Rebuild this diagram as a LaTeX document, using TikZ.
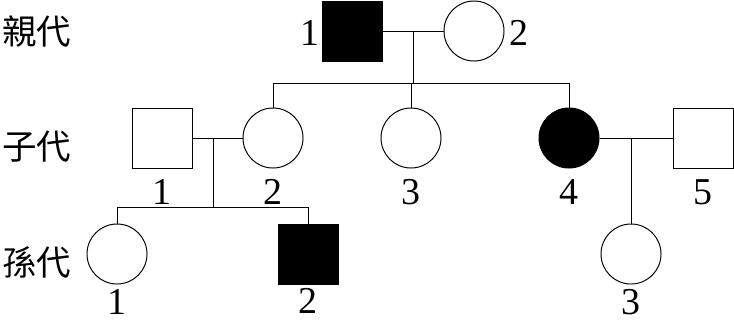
\documentclass[tikz,border=0pt]{standalone}
\usepackage{fontspec}
\setmainfont{Liberation Serif}
\newfontfamily\cjk{Noto Sans CJK TC}

\begin{document}
\begin{tikzpicture}[x=0.025cm, y=-0.025cm, line width=0.7pt,
    male/.style={rectangle, draw, minimum size=1.5cm, inner sep=0pt},
    female/.style={circle, draw, minimum size=1.5cm, inner sep=0pt},
    num/.style={inner sep=0pt, font=\fontsize{27}{30}\selectfont},
    gen/.style={inner sep=0pt, anchor=west, font=\cjk\fontsize{24.5}{28}\selectfont}]
        \useasboundingbox (0,0) rectangle (734,325);

        % Generation labels
        \node[gen] (g1) at (2,32) {親代};
        \node[gen] (g2) at (2,147) {子代};
        \node[gen] (g3) at (2,262) {孫代};

        % Draw nodes
        \node[male, fill=black] (p1) at (352,31) {};
        \node[female] (p2) at (474,31) {};
        \node[male] (c1) at (162,138) {};
        \node[female] (c2) at (273,138) {};
        \node[female] (c3) at (411,138) {};
        \node[female, fill=black] (c4) at (569,138) {};
        \node[male] (c5) at (703,138) {};
        \node[female] (k1) at (117,254) {};
        \node[male, fill=black] (k2) at (308,254) {};
        \node[female] (k3) at (631,254) {};

        % Numbers
        \node[num] (n1) at (310,33) {1};
        \node[num] (n2) at (519,33) {2};
        \node[num] (m1) at (162,192) {1};
        \node[num] (m2) at (273,192) {2};
        \node[num] (m3) at (411,192) {3};
        \node[num] (m4) at (569,192) {4};
        \node[num] (m5) at (703,192) {5};
        \node[num] (q1) at (117,302) {1};
        \node[num] (q2) at (308,301) {2};
        \node[num] (q3) at (631,302) {3};

        % Helper points
        \coordinate (u1) at (413,31);
        \coordinate (s1) at (413,83);
        \coordinate (u2) at (213,138);
        \coordinate (s2) at (213,207);
        \coordinate (u3) at (631,138);

        % Draw connections
        \draw (p1) -- (p2);
        \draw (u1) -- (s1);
        \draw (c2 |- s1) -- (c4 |- s1);
        \draw (c2 |- s1) -- (c2);
        \draw (c3 |- s1) -- (c3);
        \draw (c4 |- s1) -- (c4);
        \draw (c1) -- (c2);
        \draw (u2) -- (s2);
        \draw (k1 |- s2) -- (k2 |- s2);
        \draw (k1 |- s2) -- (k1);
        \draw (k2 |- s2) -- (k2);
        \draw (c4) -- (c5);
        \draw (u3) -- (k3);
    \end{tikzpicture}
\end{document}
